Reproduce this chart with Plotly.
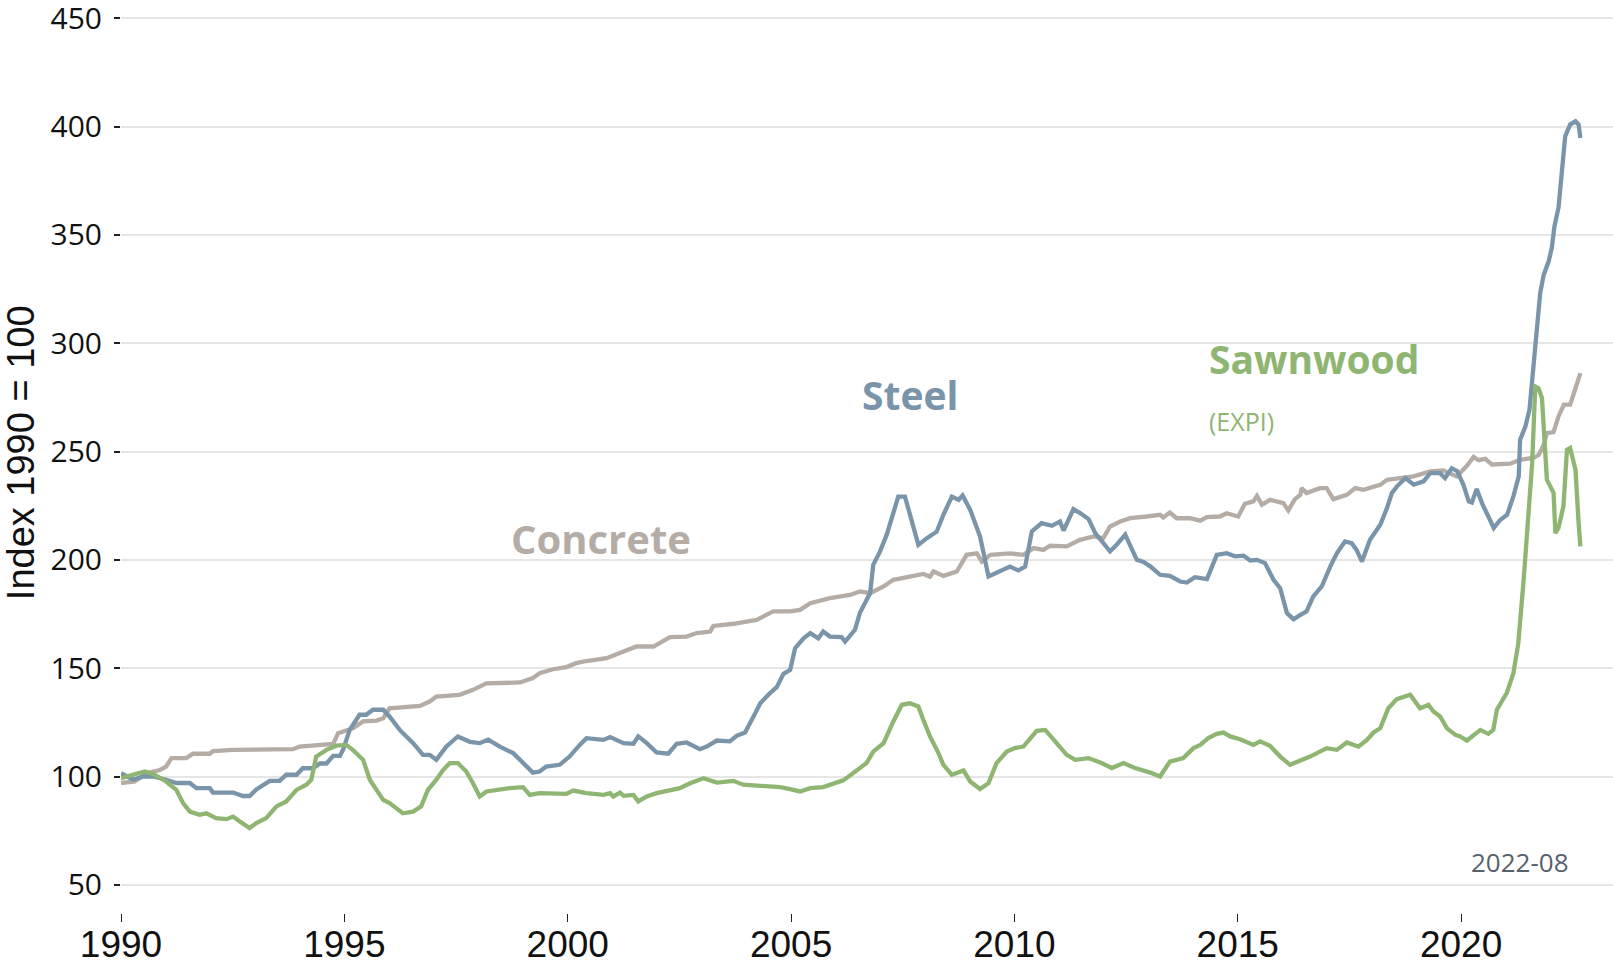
import plotly.graph_objects as go

# ---- data ----
concrete_x = [1990.00, 1990.31, 1990.57, 1990.87, 1991.01, 1991.13, 1991.46, 1991.61, 1991.99, 1992.06,
              1992.51, 1993.85, 1994.00, 1994.60, 1994.75, 1994.86, 1995.19, 1995.42, 1995.72, 1995.87,
              1996.01, 1996.69, 1996.91, 1997.06, 1997.58, 1997.88, 1998.18, 1998.93, 1999.22, 1999.37,
              1999.67, 1999.97, 2000.19, 2000.42, 2000.87, 2001.25, 2001.54, 2001.92, 2002.29, 2002.66,
              2002.89, 2003.19, 2003.26, 2003.71, 2004.23, 2004.60, 2004.98, 2005.20, 2005.43, 2005.87,
              2006.32, 2006.54, 2006.77, 2007.07, 2007.29, 2007.66, 2007.96, 2008.11, 2008.19, 2008.41,
              2008.71, 2008.93, 2009.16, 2009.27, 2009.46, 2009.90, 2010.20, 2010.43, 2010.65, 2010.80,
              2011.17, 2011.47, 2011.77, 2011.99, 2012.14, 2012.37, 2012.59, 2012.96, 2013.26, 2013.33,
              2013.48, 2013.63, 2013.93, 2014.16, 2014.31, 2014.60, 2014.75, 2015.01, 2015.16, 2015.35,
              2015.43, 2015.54, 2015.72, 2016.02, 2016.13, 2016.28, 2016.40, 2016.43, 2016.54, 2016.84,
              2016.99, 2017.14, 2017.44, 2017.63, 2017.81, 2018.19, 2018.34, 2018.63, 2018.93, 2019.31,
              2019.60, 2019.90, 2020.13, 2020.28, 2020.39, 2020.54, 2020.69, 2021.10, 2021.32, 2021.62,
              2021.74, 2021.85, 2021.92, 2022.07, 2022.18, 2022.30, 2022.44, 2022.55, 2022.67]
concrete_y = [97.0, 97.7, 101.5, 103.0, 104.6, 108.5, 108.5, 110.5, 110.5, 111.7,
              112.3, 112.6, 113.8, 114.6, 115.0, 120.0, 122.3, 125.4, 125.8, 126.9,
              131.5, 132.6, 134.6, 136.9, 137.7, 140.0, 143.0, 143.4, 145.4, 147.7,
              149.5, 150.5, 152.3, 153.3, 154.6, 157.7, 160.0, 160.0, 164.3, 164.6,
              166.2, 166.9, 169.5, 170.5, 172.3, 176.2, 176.2, 176.9, 180.0, 182.3,
              183.8, 185.4, 184.6, 187.7, 190.8, 192.3, 193.5, 192.3, 194.6, 192.6,
              194.6, 202.3, 203.0, 199.2, 202.3, 203.0, 202.3, 205.4, 204.6, 206.5,
              206.2, 209.2, 210.8, 210.0, 215.4, 217.7, 219.2, 220.0, 220.8, 219.5,
              221.8, 219.2, 219.2, 218.1, 219.7, 220.0, 221.5, 220.0, 225.9, 227.0,
              229.5, 225.4, 227.7, 226.2, 222.8, 228.0, 230.0, 233.1, 230.8, 233.1,
              233.1, 228.0, 230.0, 233.1, 232.3, 234.6, 236.9, 237.7, 238.5, 240.8,
              241.3, 238.5, 243.4, 247.5, 246.0, 246.6, 244.0, 244.4, 246.2, 247.0,
              248.5, 253.1, 258.5, 259.0, 266.2, 271.6, 271.6, 278.5, 286.2]

steel_x = [1990.00, 1990.27, 1990.49, 1990.72, 1991.01, 1991.24, 1991.54, 1991.69, 1991.99, 1992.06,
           1992.51, 1992.73, 1992.88, 1993.03, 1993.33, 1993.55, 1993.70, 1993.93, 1994.07, 1994.30,
           1994.45, 1994.60, 1994.75, 1994.90, 1994.97, 1995.12, 1995.34, 1995.49, 1995.64, 1995.87,
           1996.01, 1996.24, 1996.54, 1996.76, 1996.91, 1997.06, 1997.28, 1997.54, 1997.81, 1998.03,
           1998.22, 1998.48, 1998.78, 1999.00, 1999.22, 1999.37, 1999.52, 1999.82, 2000.04, 2000.27,
           2000.42, 2000.80, 2000.95, 2001.25, 2001.47, 2001.58, 2001.77, 2001.99, 2002.25, 2002.44,
           2002.66, 2002.96, 2003.11, 2003.34, 2003.63, 2003.78, 2003.97, 2004.16, 2004.31, 2004.53,
           2004.68, 2004.83, 2004.98, 2005.09, 2005.28, 2005.43, 2005.61, 2005.72, 2005.87, 2006.13,
           2006.21, 2006.43, 2006.54, 2006.69, 2006.77, 2006.84, 2006.99, 2007.14, 2007.40, 2007.55,
           2007.70, 2007.85, 2008.04, 2008.26, 2008.41, 2008.60, 2008.75, 2008.84, 2009.01, 2009.23,
           2009.42, 2009.57, 2009.68, 2009.90, 2010.09, 2010.24, 2010.39, 2010.61, 2010.84, 2011.02,
           2011.10, 2011.32, 2011.47, 2011.66, 2011.81, 2011.92, 2012.14, 2012.29, 2012.48, 2012.74,
           2012.89, 2013.04, 2013.26, 2013.48, 2013.71, 2013.86, 2014.04, 2014.31, 2014.53, 2014.75,
           2014.94, 2015.13, 2015.28, 2015.43, 2015.61, 2015.80, 2015.95, 2016.10, 2016.25, 2016.40,
           2016.54, 2016.69, 2016.88, 2017.07, 2017.22, 2017.40, 2017.55, 2017.66, 2017.78, 2017.96,
           2018.19, 2018.34, 2018.45, 2018.56, 2018.75, 2018.94, 2019.16, 2019.31, 2019.53, 2019.64,
           2019.79, 2019.91, 2020.05, 2020.17, 2020.24, 2020.35, 2020.47, 2020.61, 2020.73, 2020.88,
           2021.03, 2021.17, 2021.29, 2021.32, 2021.44, 2021.53, 2021.62, 2021.70, 2021.77, 2021.85,
           2021.96, 2022.03, 2022.09, 2022.18, 2022.26, 2022.33, 2022.44, 2022.56, 2022.63, 2022.67]
steel_y = [101.5, 98.5, 100.0, 100.0, 98.5, 97.0, 97.0, 94.6, 94.6, 92.6,
           92.6, 91.0, 91.0, 94.0, 98.0, 98.0, 100.8, 100.8, 103.8, 103.8,
           106.0, 106.0, 109.5, 109.5, 112.3, 121.5, 128.5, 128.5, 130.8, 130.8,
           127.7, 121.5, 115.4, 110.0, 110.0, 107.7, 113.8, 118.5, 116.0, 115.4,
           117.0, 113.8, 110.8, 106.0, 101.8, 102.3, 104.6, 105.4, 109.2, 114.6,
           117.7, 116.9, 118.2, 115.4, 115.1, 118.5, 115.4, 111.1, 110.5, 115.1,
           115.7, 112.6, 113.8, 116.6, 116.2, 118.8, 120.3, 127.7, 133.8, 138.5,
           141.2, 147.4, 149.2, 159.2, 163.8, 166.2, 163.8, 166.9, 164.6, 164.3,
           162.3, 167.7, 175.4, 181.5, 184.6, 197.7, 203.8, 211.5, 229.2, 229.2,
           218.5, 206.9, 210.0, 213.0, 220.8, 229.2, 227.7, 229.7, 223.1, 210.8,
           192.3, 193.8, 194.6, 196.9, 195.1, 196.9, 213.1, 216.9, 215.7, 217.7,
           213.5, 223.4, 221.6, 218.8, 212.3, 209.3, 203.9, 207.0, 211.6, 200.0,
           199.0, 197.0, 193.1, 192.6, 190.0, 189.5, 192.0, 191.1, 202.3, 203.1,
           201.6, 201.9, 199.7, 200.0, 198.5, 190.8, 186.9, 175.4, 172.6, 174.6,
           176.2, 183.1, 187.7, 196.9, 203.1, 208.5, 207.7, 204.6, 199.2, 209.3,
           216.2, 223.9, 230.8, 233.8, 237.7, 234.7, 236.2, 240.0, 240.0, 237.7,
           242.3, 241.0, 234.7, 227.0, 226.5, 232.7, 226.0, 220.0, 214.7, 218.5,
           220.8, 229.3, 238.5, 255.4, 261.6, 269.3, 290.8, 310.8, 323.1, 331.6,
           337.8, 344.0, 354.0, 362.5, 378.5, 395.5, 400.9, 402.4, 400.9, 394.7]

wood_x = [1990.00, 1990.34, 1990.53, 1990.72, 1991.01, 1991.24, 1991.39, 1991.54, 1991.76, 1991.91,
          1992.13, 1992.36, 1992.51, 1992.66, 1992.88, 1993.03, 1993.25, 1993.48, 1993.70, 1993.93,
          1994.15, 1994.26, 1994.37, 1994.60, 1994.82, 1995.04, 1995.19, 1995.42, 1995.57, 1995.72,
          1995.87, 1996.01, 1996.16, 1996.31, 1996.54, 1996.72, 1996.87, 1997.06, 1997.21, 1997.36,
          1997.54, 1997.73, 1997.88, 1998.03, 1998.18, 1998.40, 1998.70, 1999.00, 1999.15, 1999.37,
          1999.97, 2000.12, 2000.42, 2000.80, 2000.95, 2001.02, 2001.17, 2001.25, 2001.47, 2001.58,
          2001.77, 2001.99, 2002.29, 2002.51, 2002.74, 2003.04, 2003.34, 2003.71, 2003.93, 2004.23,
          2004.46, 2004.75, 2004.98, 2005.20, 2005.43, 2005.72, 2006.17, 2006.47, 2006.69, 2006.84,
          2007.07, 2007.29, 2007.48, 2007.66, 2007.85, 2007.96, 2008.11, 2008.30, 2008.41, 2008.60,
          2008.86, 2009.01, 2009.23, 2009.42, 2009.60, 2009.83, 2010.01, 2010.20, 2010.50, 2010.69,
          2010.84, 2011.02, 2011.17, 2011.36, 2011.66, 2011.92, 2012.18, 2012.44, 2012.70, 2013.04,
          2013.26, 2013.48, 2013.63, 2013.78, 2014.01, 2014.16, 2014.34, 2014.53, 2014.68, 2014.83,
          2015.05, 2015.35, 2015.50, 2015.72, 2015.95, 2016.17, 2016.40, 2016.62, 2016.99, 2017.22,
          2017.44, 2017.70, 2017.89, 2018.04, 2018.19, 2018.37, 2018.56, 2018.71, 2018.86, 2018.97,
          2019.08, 2019.27, 2019.38, 2019.53, 2019.68, 2019.87, 2019.98, 2020.13, 2020.28, 2020.43,
          2020.61, 2020.72, 2020.80, 2021.02, 2021.17, 2021.28, 2021.40, 2021.51, 2021.59, 2021.66,
          2021.73, 2021.81, 2021.92, 2021.96, 2022.07, 2022.11, 2022.18, 2022.29, 2022.37, 2022.44,
          2022.56, 2022.63, 2022.67]
wood_y = [99.2, 101.2, 102.3, 101.2, 97.7, 93.8, 87.7, 83.8, 82.3, 83.0,
          80.8, 80.3, 81.5, 79.2, 76.2, 78.5, 80.8, 86.2, 88.5, 93.8,
          96.2, 98.5, 109.2, 112.3, 114.2, 114.6, 112.3, 107.7, 98.5, 93.8,
          89.2, 87.7, 85.4, 83.0, 83.8, 86.2, 93.8, 98.5, 103.0, 106.2,
          106.2, 102.3, 96.9, 90.8, 93.1, 93.8, 94.6, 95.1, 91.5, 92.3,
          92.0, 93.5, 92.3, 91.5, 92.3, 90.8, 92.6, 91.1, 91.5, 88.5,
          90.8, 92.3, 93.8, 94.6, 96.9, 99.2, 97.2, 98.0, 96.2, 95.7,
          95.1, 95.1, 94.2, 93.1, 94.6, 95.1, 98.2, 103.1, 106.2, 111.5,
          115.4, 125.4, 133.1, 133.8, 132.3, 126.2, 118.5, 110.8, 105.4, 100.8,
          102.8, 97.7, 94.2, 96.9, 106.2, 111.5, 113.1, 113.8, 121.1, 121.5,
          117.7, 113.8, 110.0, 107.7, 108.5, 106.5, 103.9, 106.2, 103.9, 101.8,
          100.0, 106.9, 107.7, 108.5, 113.1, 114.6, 117.7, 119.7, 120.3, 118.5,
          117.2, 114.6, 116.2, 114.2, 109.2, 105.4, 107.4, 109.2, 113.1, 112.3,
          115.7, 113.8, 116.9, 120.3, 122.3, 131.5, 135.7, 136.9, 137.7, 134.6,
          131.5, 133.1, 130.0, 127.7, 122.3, 119.2, 118.5, 116.6, 118.8, 121.5,
          119.7, 121.5, 130.8, 138.5, 147.7, 161.5, 190.8, 221.6, 244.6, 280.0,
          279.2, 274.7, 237.0, 235.4, 230.8, 212.3, 214.7, 224.7, 250.8, 251.6,
          241.6, 217.0, 206.2]

x_ticks = [1990, 1995, 2000, 2005, 2010, 2015, 2020]
y_ticks = [50, 100, 150, 200, 250, 300, 350, 400, 450]

C_STEEL = "#7a94a9"
C_CONC = "#b5ada5"
C_WOOD = "#8fb572"

fig = go.Figure()
for xs, ys, col, nm in [(concrete_x, concrete_y, C_CONC, "Concrete"),
                        (steel_x, steel_y, C_STEEL, "Steel"),
                        (wood_x, wood_y, C_WOOD, "Sawnwood")]:
    fig.add_trace(go.Scatter(x=xs, y=ys, mode="lines", name=nm,
                             line=dict(color=col, width=4.3), hoverinfo="skip"))

ann = []
ann.append(dict(x=2000.75, y=210.0, xref="x", yref="y", text="<b>Concrete</b>", showarrow=False,
                font=dict(family="Open Sans", size=40, color=C_CONC), xanchor="center", yanchor="middle"))
ann.append(dict(x=2007.66, y=276.5, xref="x", yref="y", text="<b>Steel</b>", showarrow=False,
                font=dict(family="Open Sans", size=39, color=C_STEEL), xanchor="center", yanchor="middle"))
ann.append(dict(x=2014.30, y=293, xref="x", yref="y", text="<b>Sawnwood</b>", showarrow=False,
                font=dict(family="Open Sans", size=39, color=C_WOOD), xanchor="left", yanchor="middle"))
ann.append(dict(x=2014.32, y=264, xref="x", yref="y", text="(EXPI)", showarrow=False,
                font=dict(family="Open Sans", size=25, color=C_WOOD), xanchor="left", yanchor="middle"))
ann.append(dict(x=2022.45, y=60.5, xref="x", yref="y", text="2022-08", showarrow=False,
                font=dict(family="Open Sans", size=26, color="#56616c"), xanchor="right", yanchor="middle"))
ann.append(dict(x=-0.0668, y=0.513, xref="paper", yref="paper", text="Index 1990 = 100", showarrow=False,
                textangle=-90, font=dict(family="Liberation Sans", size=38, color="#111111"),
                xanchor="center", yanchor="middle"))

fig.update_layout(
    width=1613, height=966,
    margin=dict(l=121, r=0, t=16, b=53, autoexpand=False),
    paper_bgcolor="white", plot_bgcolor="white",
    showlegend=False,
    annotations=ann,
    xaxis=dict(range=[1990, 2023.4], tickvals=x_ticks, ticktext=[str(v) for v in x_ticks],
               showgrid=False, zeroline=False, showline=False, automargin=False,
               ticks="outside", ticklen=8, tickwidth=1.2, tickcolor="#222222",
               ticklabelstandoff=-9,
               tickfont=dict(family="Liberation Sans", size=37, color="#111111")),
    yaxis=dict(range=[37, 451], tickvals=y_ticks, ticktext=[str(v) for v in y_ticks],
               showgrid=True, gridcolor="#e6e6e6", gridwidth=1.5, zeroline=False, showline=False,
               automargin=False, ticklabeloverflow="allow", ticklabelstandoff=6,
               ticks="outside", ticklen=6, tickwidth=1.5, tickcolor="#222222",
               tickfont=dict(family="Open Sans", size=30, color="#111111")),
)

fig.write_html("out.html", config={"displayModeBar": False},
               post_script="document.body.style.margin='0';document.body.style.overflow='hidden';")
